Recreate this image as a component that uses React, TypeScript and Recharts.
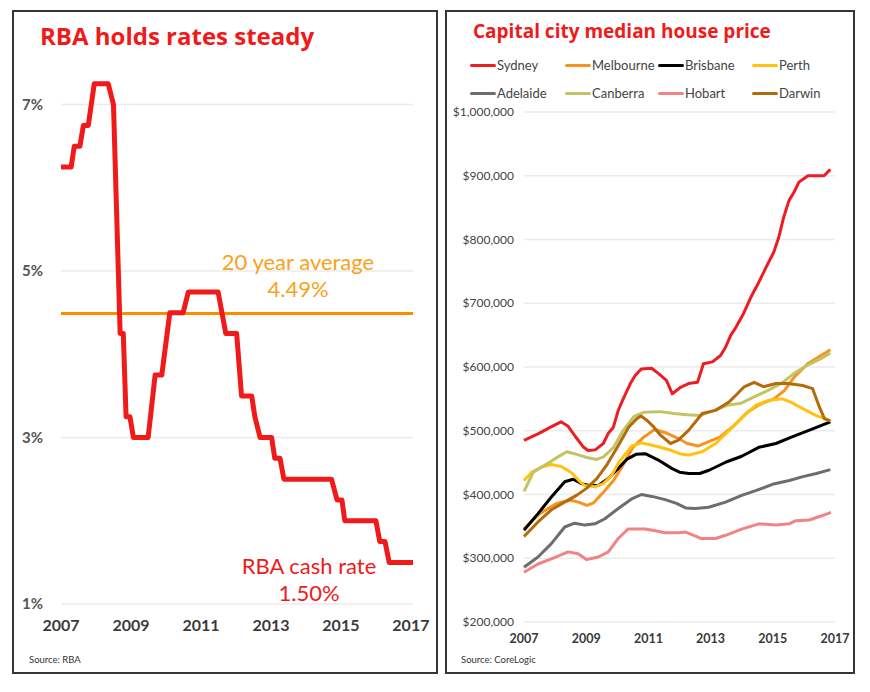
import React from "react";
import { LineChart, Line, XAxis, YAxis, CartesianGrid, ReferenceLine } from "recharts";

// RBA cash rate, [year, %]
const cashRate: [number, number][] = [
  [2007.0, 6.25], [2007.29, 6.25], [2007.38, 6.5], [2007.54, 6.5], [2007.64, 6.75], [2007.78, 6.75],
  [2007.95, 7.25], [2008.35, 7.25], [2008.5, 7.0], [2008.69, 4.25], [2008.78, 4.25], [2008.86, 3.25],
  [2008.97, 3.25], [2009.07, 3.0], [2009.49, 3.0], [2009.69, 3.75], [2009.88, 3.75], [2010.11, 4.5],
  [2010.49, 4.5], [2010.64, 4.75], [2011.49, 4.75], [2011.71, 4.25], [2012.02, 4.25], [2012.16, 3.5],
  [2012.45, 3.5], [2012.54, 3.25], [2012.69, 3.0], [2013.02, 3.0], [2013.11, 2.75], [2013.26, 2.75],
  [2013.37, 2.5], [2014.73, 2.5], [2014.89, 2.25], [2015.03, 2.25], [2015.11, 2.0], [2016.0, 2.0],
  [2016.11, 1.75], [2016.26, 1.75], [2016.38, 1.5], [2017.06, 1.5],
];
const avgRate = 4.49;
const rateTicks = [1, 3, 5, 7];
const yearTicks = [2007, 2009, 2011, 2013, 2015, 2017];
const priceTicks = [200000, 300000, 400000, 500000, 600000, 700000, 800000, 900000, 1000000];

// median house prices, [year, $000]
const sydney: [number, number][] = [
  [2007.0, 485], [2007.45, 495], [2007.87, 506], [2008.19, 514], [2008.42, 507], [2008.65, 491],
  [2008.9, 475], [2009.06, 469], [2009.29, 470], [2009.55, 480], [2009.71, 496], [2009.87, 505],
  [2010.03, 532], [2010.19, 550], [2010.42, 574], [2010.58, 587], [2010.77, 597], [2011.1, 598],
  [2011.32, 590], [2011.58, 579], [2011.77, 558], [2012.03, 568], [2012.29, 574], [2012.58, 576],
  [2012.77, 605], [2013.06, 608], [2013.32, 618], [2013.48, 631], [2013.65, 650], [2013.81, 662],
  [2014.06, 684], [2014.29, 709], [2014.55, 733], [2014.77, 755], [2015.03, 780], [2015.19, 803],
  [2015.35, 835], [2015.52, 861], [2015.68, 874], [2015.84, 890], [2016.13, 900], [2016.65, 900],
  [2016.85, 910],
];
const melbourne: [number, number][] = [
  [2007.0, 346], [2007.5, 370], [2008.05, 386], [2008.5, 391], [2008.75, 388], [2009.02, 383],
  [2009.24, 387], [2009.56, 404], [2009.88, 422], [2010.15, 443], [2010.5, 474], [2010.85, 490],
  [2011.2, 502], [2011.6, 496], [2011.92, 489], [2012.25, 480], [2012.6, 476], [2012.9, 482],
  [2013.3, 490], [2013.75, 508], [2014.18, 529], [2014.6, 542], [2015.04, 550], [2015.37, 563],
  [2015.7, 585], [2016.12, 605], [2016.55, 618], [2016.85, 627],
];
const brisbane: [number, number][] = [
  [2007.0, 344], [2007.45, 370], [2007.88, 396], [2008.31, 420], [2008.58, 424], [2008.85, 417],
  [2009.1, 414], [2009.39, 414], [2009.71, 425], [2010.03, 441], [2010.3, 455], [2010.6, 463],
  [2010.9, 464], [2011.32, 454], [2011.75, 441], [2012.0, 435], [2012.3, 433], [2012.65, 433],
  [2012.95, 438], [2013.5, 451], [2014.0, 460], [2014.55, 474], [2015.1, 480], [2015.6, 490],
  [2016.18, 501], [2016.85, 514],
];
const perth: [number, number][] = [
  [2007.0, 422], [2007.25, 435], [2007.56, 443], [2007.88, 447], [2008.2, 444], [2008.53, 434],
  [2008.8, 420], [2008.96, 414], [2009.28, 412], [2009.55, 417], [2009.82, 430], [2010.03, 449],
  [2010.46, 476], [2010.78, 481], [2011.32, 475], [2011.75, 469], [2012.0, 464], [2012.3, 462],
  [2012.73, 467], [2013.16, 480], [2013.59, 500], [2014.02, 521], [2014.45, 540], [2014.88, 548],
  [2015.31, 550], [2015.58, 545], [2015.95, 535], [2016.38, 524], [2016.85, 516],
];
const adelaide: [number, number][] = [
  [2007.0, 286], [2007.45, 302], [2007.88, 323], [2008.31, 349], [2008.63, 355], [2008.96, 352],
  [2009.28, 354], [2009.6, 362], [2010.03, 378], [2010.46, 393], [2010.78, 400], [2011.11, 397],
  [2011.54, 392], [2011.9, 386], [2012.2, 379], [2012.51, 378], [2012.94, 380], [2013.48, 388],
  [2014.02, 399], [2014.45, 406], [2014.99, 416], [2015.53, 422], [2015.97, 428], [2016.4, 433],
  [2016.85, 439],
];
const canberra: [number, number][] = [
  [2007.0, 405], [2007.3, 435], [2007.73, 448], [2008.16, 461], [2008.38, 467], [2008.7, 463],
  [2009.02, 458], [2009.34, 455], [2009.56, 459], [2009.88, 474], [2010.2, 501], [2010.53, 522],
  [2010.85, 529], [2011.39, 530], [2011.82, 527], [2012.25, 525], [2012.68, 524], [2013.11, 532],
  [2013.54, 540], [2013.97, 543], [2014.4, 553], [2014.83, 563], [2015.26, 574], [2015.69, 590],
  [2016.12, 603], [2016.55, 613], [2016.85, 622],
];
const hobart: [number, number][] = [
  [2007.0, 278], [2007.45, 291], [2007.88, 299], [2008.42, 310], [2008.74, 307], [2009.01, 298],
  [2009.39, 302], [2009.71, 310], [2010.03, 331], [2010.35, 346], [2010.89, 346], [2011.22, 343],
  [2011.54, 340], [2011.97, 340], [2012.19, 341], [2012.5, 335], [2012.68, 331], [2013.16, 331],
  [2013.48, 336], [2014.02, 346], [2014.56, 354], [2015.1, 352], [2015.53, 354], [2015.74, 359],
  [2016.17, 360], [2016.6, 367], [2016.87, 372],
];
const darwin: [number, number][] = [
  [2007.0, 334], [2007.45, 357], [2007.88, 376], [2008.3, 388], [2008.7, 399], [2009.02, 410],
  [2009.34, 425], [2009.67, 447], [2010.0, 474], [2010.37, 506], [2010.63, 519], [2010.76, 523],
  [2010.96, 516], [2011.17, 506], [2011.39, 493], [2011.71, 480], [2011.95, 485], [2012.3, 501],
  [2012.73, 527], [2013.16, 532], [2013.59, 545], [2013.86, 558], [2014.08, 569], [2014.4, 576],
  [2014.7, 569], [2015.1, 574], [2015.5, 574], [2015.96, 571], [2016.28, 566], [2016.5, 537],
  [2016.66, 519], [2016.85, 515],
];

const cities = [
  { name: "Sydney", color: "#ee1c23", data: sydney },
  { name: "Melbourne", color: "#f7931e", data: melbourne },
  { name: "Brisbane", color: "#000000", data: brisbane },
  { name: "Perth", color: "#ffc20e", data: perth },
  { name: "Adelaide", color: "#6d6d6d", data: adelaide },
  { name: "Canberra", color: "#c3c364", data: canberra },
  { name: "Hobart", color: "#f28383", data: hobart },
  { name: "Darwin", color: "#b36b0b", data: darwin },
];

const FONT = "Lato, 'Open Sans', sans-serif";
const TITLE_FONT = "'Open Sans', Lato, sans-serif";
const RED = "#f01a1a";

const rateData = cashRate.map(([t, r]) => ({ t, r }));
const toPoints = (pts: [number, number][]) => pts.map(([t, v]) => ({ t, v: v * 1000 }));
const fmtPrice = (v: number) => "$" + v.toLocaleString("en-US");

const panelStyle: React.CSSProperties = {
  position: "absolute",
  top: 10,
  height: 664,
  boxSizing: "border-box",
  border: "2px solid #363636",
};

// one line of the in-chart notes, centred on (cx, cy)
const Note = ({ cx, cy, color, children }: { cx: number; cy: number; color: string; children: React.ReactNode }) => (
  <div style={{ position: "absolute", left: cx - 100, width: 200, top: cy - 11, textAlign: "center", fontFamily: FONT, fontSize: 22, color, lineHeight: "22px" }}>
    {children}
  </div>
);

const LegendRow = () => (
  <>
    {cities.map((c, i) => {
      const left = [470, 565, 658, 752][i % 4];
      const top = i < 4 ? 65 : 93;
      return (
        <div key={c.name} style={{ position: "absolute", left, top: top - 9, height: 18, display: "flex", alignItems: "center" }}>
          <span style={{ display: "inline-block", width: 26, height: 3, background: c.color, borderRadius: 2 }} />
          <span style={{ fontFamily: FONT, fontSize: 13, color: "#444", marginLeft: 1 }}>{c.name}</span>
        </div>
      );
    })}
  </>
);

export default function App() {
  return (
    <div style={{ position: "absolute", left: 0, top: 0, width: 870, height: 692, background: "#fff", fontFamily: FONT }}>
      <div style={{ ...panelStyle, left: 12, width: 426 }} />
      <div style={{ ...panelStyle, left: 445, width: 410 }} />

      {/* left: cash rate */}
      <div style={{ position: "absolute", left: 13, top: 11 }}>
        <LineChart width={424} height={662} data={rateData} margin={{ top: 52, right: 24, bottom: 39, left: 0 }}>
          <CartesianGrid horizontal vertical={false} horizontalValues={rateTicks} stroke="#ebebeb" strokeWidth={1.5} />
          <XAxis
            dataKey="t"
            type="number"
            domain={[2007, 2017.06]}
            ticks={yearTicks}
            axisLine={false}
            tickLine={false}
            height={30}
            tick={({ x, y, payload }: any) => (
              <text x={x} y={y + 8} dy="0.71em" textAnchor="middle" fill="#3a3a3a" fontSize={16} fontWeight={700} fontFamily={FONT}>
                {payload.value}
              </text>
            )}
          />
          <YAxis
            type="number"
            domain={[1, 7.5]}
            ticks={rateTicks}
            axisLine={false}
            tickLine={false}
            width={48}
            tick={({ y, payload }: any) => (
              <text x={9} y={y} dy="0.35em" textAnchor="start" fill="#555" fontSize={15} fontWeight={700} fontFamily={FONT}>
                {payload.value}%
              </text>
            )}
          />
          <ReferenceLine y={avgRate} stroke="#ff8c00" strokeWidth={3} />
          <Line type="linear" dataKey="r" stroke={RED} strokeWidth={5} dot={false} strokeLinejoin="round" isAnimationActive={false} />
        </LineChart>
      </div>
      <div style={{ position: "absolute", left: 40, top: 24, fontFamily: TITLE_FONT, fontSize: 24, fontWeight: 700, color: RED, lineHeight: 1 }}>
        RBA holds rates steady
      </div>
      <Note cx={298} cy={262} color="#f9a21b">20 year average</Note>
      <Note cx={298} cy={289} color="#f9a21b">{avgRate.toFixed(2)}%</Note>
      <Note cx={309} cy={566} color={RED}>RBA cash rate</Note>
      <Note cx={309} cy={593} color={RED}>{cashRate[cashRate.length - 1][1].toFixed(2)}%</Note>
      <div style={{ position: "absolute", left: 29, top: 654, fontSize: 9.5, color: "#333" }}>Source: RBA</div>

      {/* right: house prices */}
      <div style={{ position: "absolute", left: 446, top: 11 }}>
        <LineChart width={408} height={662} margin={{ top: 101, right: 19, bottom: 21, left: 0 }}>
          <CartesianGrid horizontal vertical={false} horizontalValues={priceTicks} stroke="#ebebeb" strokeWidth={1.5} />
          <XAxis
            dataKey="t"
            type="number"
            domain={[2007, 2017]}
            ticks={yearTicks}
            axisLine={false}
            tickLine={false}
            height={30}
            allowDuplicatedCategory={false}
            tick={({ x, y, payload }: any) => (
              <text x={x} y={y + 4} dy="0.71em" textAnchor="middle" fill="#3a3a3a" fontSize={12.5} fontWeight={700} fontFamily={FONT}>
                {payload.value}
              </text>
            )}
          />
          <YAxis
            type="number"
            domain={[200000, 1000000]}
            ticks={priceTicks}
            axisLine={false}
            tickLine={false}
            width={78}
            tick={({ x, y, payload }: any) => (
              <text x={x - 2} y={y} dy="0.35em" textAnchor="end" fill="#444" fontSize={12} fontFamily={FONT}>
                {fmtPrice(payload.value)}
              </text>
            )}
          />
          {cities.map((c) => (
            <Line
              key={c.name}
              data={toPoints(c.data)}
              dataKey="v"
              name={c.name}
              type="linear"
              stroke={c.color}
              strokeWidth={3}
              dot={false}
              strokeLinejoin="round"
              isAnimationActive={false}
            />
          ))}
        </LineChart>
      </div>
      <div style={{ position: "absolute", left: 473, top: 22, fontFamily: TITLE_FONT, fontSize: 19, fontWeight: 700, color: RED, lineHeight: 1 }}>
        Capital city median house price
      </div>
      <LegendRow />
      <div style={{ position: "absolute", left: 461, top: 654, fontSize: 9.5, color: "#333" }}>Source: CoreLogic</div>
    </div>
  );
}
